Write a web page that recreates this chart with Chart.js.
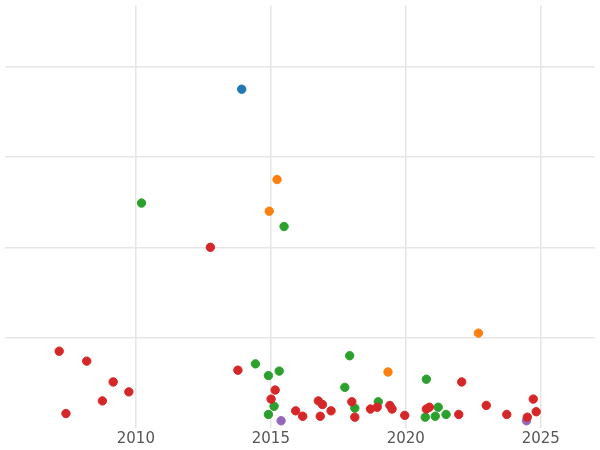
<!DOCTYPE html>
<html>
  <head>
    <meta charset="utf-8">
    <script src="https://cdn.jsdelivr.net/npm/chart.js@4/dist/chart.umd.min.js"></script>
    <style>
      body { margin: 0; background: #fff; }
    </style>
  </head>
  <body>
    <canvas id="scatterChart" width="600" height="450"></canvas>
    <script>
      const xTicks = [2010, 2015, 2020, 2025];
      const yTicks = [1, 2, 3, 4];

      const blueX = [2013.92];
      const blueY = [3.75];
      const orangeX = [2015.23, 2014.94, 2022.69, 2019.34];
      const orangeY = [2.75, 2.40, 1.05, 0.62];
      const greenX = [2010.21, 2015.49, 2017.92, 2014.43, 2015.31, 2014.91, 2020.76, 2017.74, 2018.98, 2015.12, 2018.11, 2021.20, 2014.91, 2021.49, 2021.09, 2020.72];
      const greenY = [2.49, 2.23, 0.80, 0.71, 0.63, 0.58, 0.54, 0.45, 0.29, 0.24, 0.22, 0.23, 0.15, 0.15, 0.13, 0.12];
      const redX = [2007.16, 2008.18, 2009.16, 2009.74, 2008.76, 2007.41, 2012.76, 2013.78, 2015.16, 2015.01, 2015.92, 2016.18, 2016.76, 2016.91, 2016.83, 2017.23, 2018.0, 2018.69, 2018.94, 2018.11, 2019.41, 2019.49, 2019.96, 2020.76, 2020.87, 2022.07, 2021.96, 2022.98, 2023.74, 2024.72, 2024.83, 2024.50];
      const redY = [0.85, 0.74, 0.51, 0.40, 0.30, 0.16, 2.0, 0.64, 0.42, 0.32, 0.19, 0.13, 0.30, 0.26, 0.13, 0.19, 0.29, 0.21, 0.23, 0.12, 0.25, 0.21, 0.14, 0.21, 0.23, 0.51, 0.15, 0.25, 0.15, 0.32, 0.18, 0.12];
      const purpleX = [2015.38, 2024.47];
      const purpleY = [0.08, 0.08];

      function pts(xs, ys) {
        return xs.map((x, i) => ({x: x, y: ys[i]}));
      }

      function series(xs, ys, color) {
        return {
          data: pts(xs, ys),
          backgroundColor: color,
          borderColor: color,
          pointRadius: 4.2,
          pointHoverRadius: 4.2
        };
      }

      const ctx = document.getElementById("scatterChart");
      new Chart(ctx, {
        type: 'scatter',
        data: {
          datasets: [
            series(redX, redY, '#d62728'),
            series(greenX, greenY, '#2ca02c'),
            series(orangeX, orangeY, '#ff7f0e'),
            series(blueX, blueY, '#1f77b4'),
            series(purpleX, purpleY, '#9467bd')
          ]
        },
        options: {
          responsive: false,
          animation: false,
          layout: { padding: { left: -5, right: -5, top: -5, bottom: 0 } },
          plugins: { legend: { display: false }, tooltip: { enabled: false } },
          scales: {
            x: {
              type: 'linear',
              min: 2005.16,
              max: 2027,
              afterBuildTicks: axis => { axis.ticks = xTicks.map(v => ({value: v})); },
              grid: { color: '#e6e6e6', lineWidth: 1.5, drawTicks: false },
              border: { display: false },
              ticks: { color: '#555', font: { family: 'DejaVu Sans', size: 15 }, padding: 2, callback: v => String(v) }
            },
            y: {
              min: 0,
              max: 4.68,
              afterBuildTicks: axis => { axis.ticks = yTicks.map(v => ({value: v})); },
              grid: { color: '#e6e6e6', lineWidth: 1.5, drawTicks: false },
              border: { display: false },
              ticks: { display: false }
            }
          }
        }
      });
    </script>
  </body>
</html>
